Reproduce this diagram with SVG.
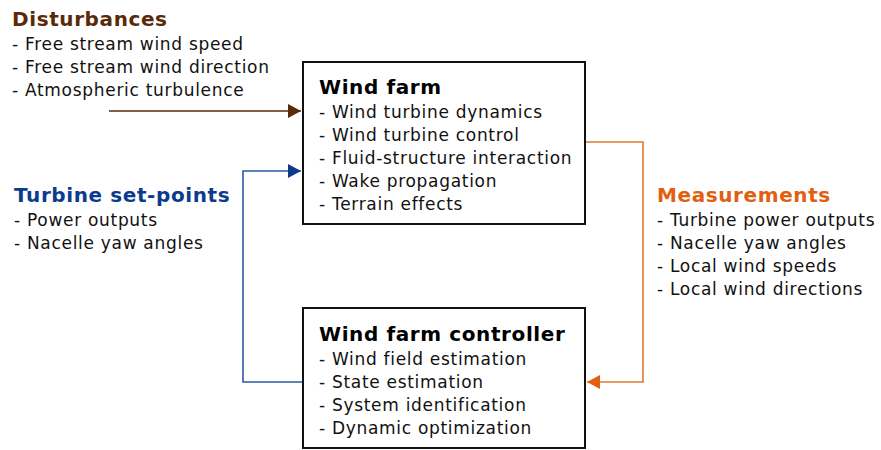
<svg xmlns="http://www.w3.org/2000/svg" width="881" height="450" viewBox="0 0 881 450">
<style>
text{font-family:"DejaVu Sans","Verdana",sans-serif;font-size:17px;letter-spacing:0.7px;fill:#111}
.h{font-weight:bold;font-size:20px;letter-spacing:0.6px}
.hb{font-weight:bold;font-size:20px;letter-spacing:0.6px;fill:#000}
.box{fill:#fff;stroke:#111;stroke-width:2}
.c{fill:none;stroke-width:1.6}
</style>
<defs>
<marker id="ab" markerWidth="13" markerHeight="14" refX="13" refY="7" orient="auto" markerUnits="userSpaceOnUse"><path d="M0,0 L13,7 L0,14 Z" fill="#5a2a08"/></marker>
<marker id="abl" markerWidth="13" markerHeight="14" refX="13" refY="7" orient="auto" markerUnits="userSpaceOnUse"><path d="M0,0 L13,7 L0,14 Z" fill="#0d3b8c"/></marker>
<marker id="ao" markerWidth="13" markerHeight="14" refX="13" refY="7" orient="auto" markerUnits="userSpaceOnUse"><path d="M0,0 L13,7 L0,14 Z" fill="#e0600f"/></marker>
</defs>
<g id="connectors">
<path class="c" d="M109,111 H301" stroke="#5a2a08" marker-end="url(#ab)"/>
<path class="c" d="M302,382 H243 V171 H301" stroke="#2a5aa6" marker-end="url(#abl)"/>
<path class="c" d="M585,142 H643 V382 H587" stroke="#e07a30" marker-end="url(#ao)"/>
</g>
<g id="disturbances">
<text class="h" x="12" y="26" style="fill:#5a2a08">Disturbances</text>
<text x="12" y="50">- Free stream wind speed</text>
<text x="12" y="73">- Free stream wind direction</text>
<text x="12" y="96">- Atmospheric turbulence</text>
</g>
<g id="windfarm">
<rect class="box" x="303" y="62" width="282" height="162"/>
<text class="hb" x="319" y="94">Wind farm</text>
<text x="319" y="118">- Wind turbine dynamics</text>
<text x="319" y="141">- Wind turbine control</text>
<text x="319" y="164">- Fluid-structure interaction</text>
<text x="319" y="187">- Wake propagation</text>
<text x="319" y="210">- Terrain effects</text>
</g>
<g id="setpoints">
<text class="h" x="14" y="202" style="fill:#0d3b8c">Turbine set-points</text>
<text x="14" y="226">- Power outputs</text>
<text x="14" y="249">- Nacelle yaw angles</text>
</g>
<g id="measurements">
<text class="h" x="657" y="202" style="fill:#e0600f">Measurements</text>
<text x="657" y="226">- Turbine power outputs</text>
<text x="657" y="249">- Nacelle yaw angles</text>
<text x="657" y="272">- Local wind speeds</text>
<text x="657" y="295">- Local wind directions</text>
</g>
<g id="controller">
<rect class="box" x="303" y="308" width="282" height="140"/>
<text class="hb" x="319" y="341">Wind farm controller</text>
<text x="319" y="365">- Wind field estimation</text>
<text x="319" y="388">- State estimation</text>
<text x="319" y="411">- System identification</text>
<text x="319" y="434">- Dynamic optimization</text>
</g>
</svg>
